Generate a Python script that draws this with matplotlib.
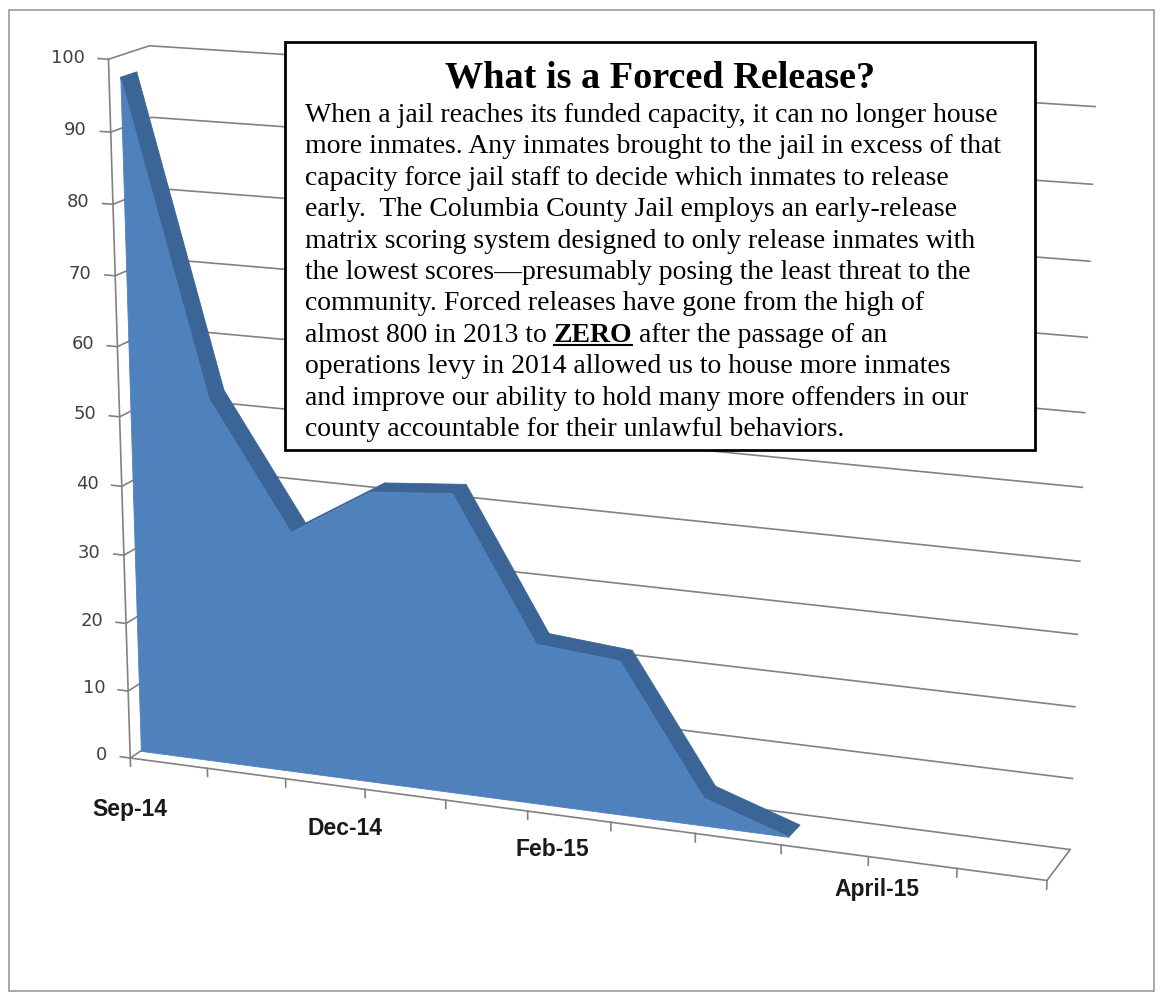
import numpy as np
import matplotlib.pyplot as plt
from matplotlib.patches import Rectangle
from matplotlib.lines import Line2D
from matplotlib.transforms import offset_copy
from mpl_toolkits.mplot3d import proj3d
from mpl_toolkits.mplot3d.art3d import Poly3DCollection

# forced releases per month
releases = [97, 53, 35, 42, 43, 23, 22, 4, 0]
n_slots = 12                      # category slots on the floor
month_labels = ["Sep-14", "Dec-14", "Feb-15", "April-15"]
label_slots = [0, 2.75, 5.3, 9.1]
value_ticks = list(range(0, 101, 10))

title = "What is a Forced Release?"
body_lines = [
    "When a jail reaches its funded capacity, it can no longer house",
    "more inmates. Any inmates brought to the jail in excess of that",
    "capacity force jail staff to decide which inmates to release",
    "early.  The Columbia County Jail employs an early-release",
    "matrix scoring system designed to only release inmates with",
    "the lowest scores\u2014presumably posing the least threat to the",
    "community. Forced releases have gone from the high of",
    None,  # line with the underlined ZERO, built below
    "operations levy in 2014 allowed us to house more inmates",
    "and improve our ability to hold many more offenders in our",
    "county accountable for their unlawful behaviors.",
]
zero_line = ("almost 800 in 2013 to", "ZERO", "after the passage of an")

W, H = 1156, 992
fig = plt.figure(figsize=(W / 100, H / 100), dpi=100)


def fx(x):
    return x / W


def fy(y):
    return 1 - y / H


# outer frame of the picture
fig.add_artist(Rectangle((fx(9), fy(991)), (1154 - 9) / W, (991 - 10) / H,
                         transform=fig.transFigure, fill=False,
                         ec="#9a9a9a", lw=1.2))

# ---- 3D area chart ----
# square axes a bit larger than the figure so nothing gets clipped
S = 1190
cx, cy = 569, 467
ax = fig.add_axes([(cx - S / 2) / W, (H - cy - S / 2) / H, S / W, S / H],
                  projection="3d")
ax.set_proj_type("persp", focal_length=0.62)
ax.view_init(elev=15, azim=-69)
ax.set_box_aspect((9.35, 0.85, 7), zoom=1.017)
xmax = n_slots - 1
ax.set_xlim(0, xmax)
ax.set_ylim(0, 1)
ax.set_zlim(0, 100)
ax.set_axis_off()
ax.computed_zorder = False

grid_kw = dict(color="#828282", lw=1.2, zorder=1)
for v in value_ticks:
    ax.plot([0, 0, xmax], [0, 1, 1], [v, v, v], **grid_kw)
ax.plot([0, xmax, xmax], [0, 0, 1], [0, 0, 0], **grid_kw)   # floor front/right edge
ax.plot([0, 0], [0, 0], [0, 100], **grid_kw)                # value axis
for v in value_ticks:
    ax.plot([-0.13, 0], [0, 0], [v, v], **grid_kw)
for k in range(n_slots):
    ax.plot([k, k], [0, 0], [0, -1.2], **grid_kw)

# ribbon: dark top surface, then the lighter front face
y0, y1 = 0.27, 0.67
xs = np.arange(len(releases))
top = []
for i in range(len(xs) - 1):
    top.append([(xs[i], y0, releases[i]), (xs[i + 1], y0, releases[i + 1]),
                (xs[i + 1], y1, releases[i + 1]), (xs[i], y1, releases[i])])
ax.add_collection3d(Poly3DCollection(top, facecolor="#3b6596",
                                     edgecolor="#3b6596", lw=0.6, zorder=2))
front = [(xs[0], y0, 0)] + [(x, y0, v) for x, v in zip(xs, releases)] + [(xs[-1], y0, 0)]
ax.add_collection3d(Poly3DCollection([front], facecolor="#4f81bd",
                                     edgecolor="#4f81bd", lw=0.6, zorder=3))

# tick labels: project the 3D anchor, then place plain 2D text there
M = ax.get_proj()


def label(x, y, z, s, drop=0, **kw):
    u, v, _ = proj3d.proj_transform(x, y, z, M)
    tr = offset_copy(ax.transData, fig=fig, x=0, y=-drop, units="dots")
    ax.text2D(u, v, s, transform=tr, zorder=4, **kw)


for v in value_ticks:
    label(-0.3, 0, v, str(v), ha="right", va="center", fontsize=13,
          color="#404040", family="DejaVu Sans")
drops = [40, 30, 24, 20]          # gap below the floor edge, px
for s, lab, d in zip(label_slots, month_labels, drops):
    label(s, 0, 0, lab, drop=d, ha="center", va="top", fontsize=16.5,
          fontweight="bold", color="#1a1a1a", family="Liberation Sans")

# ---- text box ----
fig.add_artist(Rectangle((fx(285), fy(450)), (1035 - 285) / W, (450 - 42) / H,
                         transform=fig.transFigure, fc="white", ec="black",
                         lw=2, zorder=5))
fig.text(fx(660), fy(88), title, ha="center", va="baseline", fontsize=27.5,
         fontweight="bold", family="Liberation Serif", zorder=6)

body_kw = dict(va="baseline", fontsize=20, family="Liberation Serif", zorder=6)
left = 305
for i, line in enumerate(body_lines):
    base = 122 + 31.4 * i
    if line is not None:
        fig.text(fx(left), fy(base), line, **body_kw)
        continue
    r = fig.canvas.get_renderer()
    space = 20 * 100 / 72 * 0.25
    t1 = fig.text(fx(left), fy(base), zero_line[0], **body_kw)
    x1 = t1.get_window_extent(r).x1 + space
    t2 = fig.text(x1 / W, fy(base), zero_line[1], fontweight="bold", **body_kw)
    bb = t2.get_window_extent(r)
    fig.add_artist(Line2D([bb.x0 / W, bb.x1 / W], [fy(base + 3)] * 2,
                          transform=fig.transFigure, color="black", lw=1.5,
                          zorder=6))
    fig.text((bb.x1 + space) / W, fy(base), zero_line[2], **body_kw)

fig.savefig("out.png", dpi=100)
